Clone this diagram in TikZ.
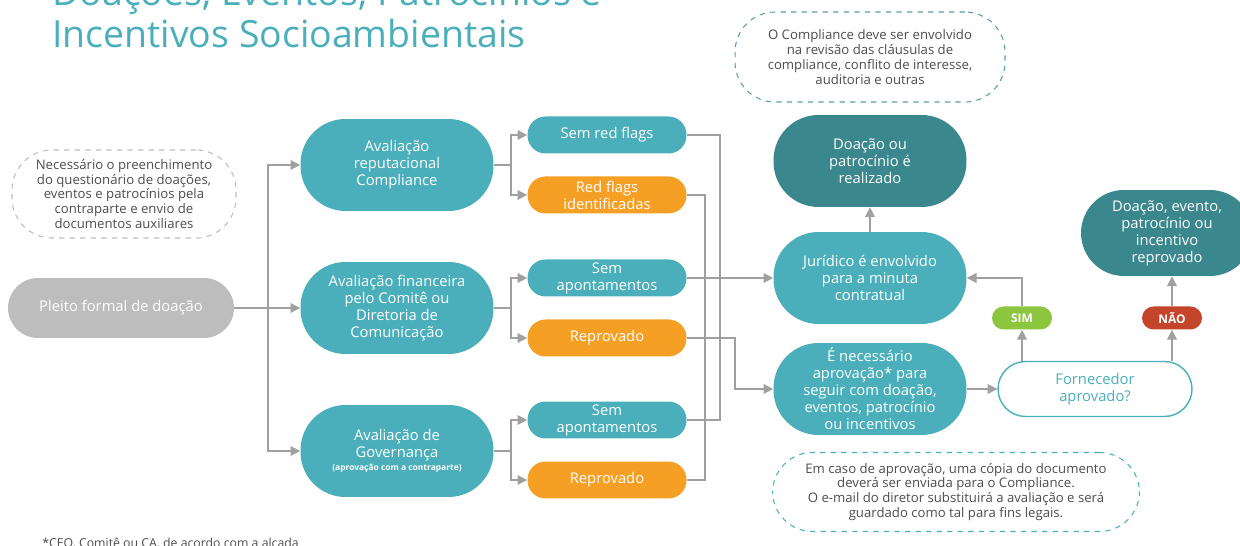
\documentclass[tikz,border=0pt]{standalone}
\usepackage{fontspec}
\setmainfont{Open Sans}
\usetikzlibrary{arrows.meta}

\definecolor{tealmid}{HTML}{4AAFBA}
\definecolor{tealdark}{HTML}{3A878E}
\definecolor{tealnota}{HTML}{5A9EA5}
\definecolor{laranja}{HTML}{F5A025}
\definecolor{cinza}{HTML}{BDBDBD}
\definecolor{linha}{HTML}{A0A0A0}
\definecolor{verde}{HTML}{8CC63F}
\definecolor{vermelho}{HTML}{C4452B}
\definecolor{textocinza}{HTML}{4D4D4D}

\begin{document}
\begin{tikzpicture}[x=0.02cm,y=-0.02cm,
  caixa/.style={align=center,text=white,inner sep=0pt,font=\fontsize{8.4}{9.7}\selectfont},
  aval/.style={caixa,fill=tealmid,minimum width=3.86cm,minimum height=1.84cm,rounded corners=0.9cm},
  res/.style={caixa,minimum width=3.18cm,minimum height=0.74cm,rounded corners=0.36cm},
  sem/.style={res,fill=tealmid},
  reprov/.style={res,fill=laranja},
  etapa/.style={aval},
  final/.style={etapa,fill=tealdark},
  nota/.style={dashed,line width=0.6pt,align=center,text=textocinza,inner sep=0pt,
    font=\fontsize{7.5}{8.5}\selectfont,rounded corners=0.8cm},
  tag/.style={text=white,inner sep=0pt,font=\fontsize{6.8}{7}\selectfont\bfseries,
    minimum width=1.2cm,minimum height=0.46cm,rounded corners=0.23cm},
  fio/.style={draw=linha,line width=0.85pt},
  seta/.style={fio,-{Triangle[length=5.5pt,width=5.5pt]}}]

  \useasboundingbox (0,0) rectangle (1240,546);
  \clip (0,0) rectangle (1240,546);

  % 标题
  \node[anchor=base west,align=left,text=tealmid,inner sep=0pt,
    font=\fontsize{21.3}{24.4}\selectfont] (titulo) at (52,48)
    {Doações, Eventos, Patrocínios e\\Incentivos Socioambientais};

  % 左侧
  \node[nota,draw=cinza,minimum width=4.48cm,minimum height=1.76cm] (questionario) at (124,194)
    {Necessário o preenchimento\\do questionário de doações,\\eventos e patrocínios pela\\contraparte e envio de\\documentos auxiliares};
  \node[caixa,fill=cinza,minimum width=4.52cm,minimum height=1.2cm,rounded corners=0.6cm] (pleito) at (121,308)
    {Pleito formal de doação};

  % 三个评估
  \node[aval] (reputacional) at (397,165) {Avaliação\\reputacional\\Compliance};
  \node[aval] (financeira) at (397,308) {Avaliação financeira\\pelo Comitê ou\\Diretoria de\\Comunicação};
  \node[aval] (governanca) at (397,451)
    {Avaliação de\\Governança\\[-2pt]{\fontsize{4.8}{5}\selectfont\bfseries (aprovação com a contraparte)}};

  % 结果
  \node[sem] (semflags) at (607,135) {Sem red flags};
  \node[reprov] (redflags) at (607,195) {Red flags\\identificadas};
  \node[sem] (semapont1) at (607,278) {Sem\\apontamentos};
  \node[reprov] (reprov1) at (607,338) {Reprovado};
  \node[sem] (semapont2) at (607,420) {Sem\\apontamentos};
  \node[reprov] (reprov2) at (607,480) {Reprovado};

  % 右侧
  \node[nota,draw=tealnota,minimum width=5.4cm,minimum height=1.8cm] (clausulas) at (870,57)
    {O Compliance deve ser envolvido\\na revisão das cláusulas de\\compliance, conflito de interesse,\\auditoria e outras};
  \node[final] (doacao) at (870,161) {Doação ou\\patrocínio é\\realizado};
  \node[etapa] (juridico) at (870,278) {Jurídico é envolvido\\para a minuta\\contratual};
  \node[etapa] (necessario) at (870,389)
    {É necessário\\aprovação* para\\seguir com doação,\\eventos, patrocínio\\ou incentivos};
  \node[caixa,draw=tealmid,line width=0.8pt,fill=white,text=tealmid,minimum width=3.88cm,
    minimum height=1.1cm,rounded corners=0.55cm] (fornecedor) at (1095,389) {Fornecedor\\aprovado?};
  \node[tag,fill=verde] (sim) at (1022,318) {SIM};
  \node[tag,fill=vermelho] (nao) at (1172,318) {NÃO};
  \node[final,minimum width=3.44cm,minimum height=1.72cm,rounded corners=0.86cm] (reprovado) at (1167,233)
    {Doação, evento,\\patrocínio ou\\incentivo\\reprovado};
  \node[nota,draw=tealmid,minimum width=7.34cm,minimum height=1.58cm] (copia) at (956,492)
    {Em caso de aprovação, uma cópia do documento\\deverá ser enviada para o Compliance.\\O e-mail do diretor substituirá a avaliação e será\\guardado como tal para fins legais.};

  % 脚注
  \node[anchor=north west,inner sep=0pt,text=textocinza,font=\fontsize{7}{8}\selectfont] (rodape) at (42,538)
    {*CEO, Comitê ou CA, de acordo com a alçada};

  % 连线
  \coordinate (tronco) at (268,308);
  \draw[seta] (pleito) -- (financeira);
  \draw[seta] (tronco) |- (reputacional.west);
  \draw[seta] (tronco) |- (governanca.west);

  \draw[seta] (reputacional.east) -- ++(17,0) |- (semflags.west);
  \draw[seta] (reputacional.east) -- ++(17,0) |- (redflags.west);
  \draw[seta] (financeira.east) -- ++(17,0) |- (semapont1.west);
  \draw[seta] (financeira.east) -- ++(17,0) |- (reprov1.west);
  \draw[seta] (governanca.east) -- ++(17,0) |- (semapont2.west);
  \draw[seta] (governanca.east) -- ++(17,0) |- (reprov2.west);

  \draw[fio] (semflags.east) -- ++(33,0) |- (semapont2.east);
  \draw[fio] (redflags.east) -- ++(18,0) |- (reprov2.east);
  \draw[seta] (semapont1) -- (juridico);
  \draw[seta] (reprov1.east) -- ++(48,0) |- (necessario.west);

  \draw[seta] (juridico) -- (doacao);
  \draw[seta] (necessario) -- (fornecedor);
  \draw[seta] (fornecedor.north -| sim) -- (sim);
  \draw[seta] (sim.north) |- (juridico.east);
  \draw[seta] (fornecedor.north -| nao) -- (nao);
  \draw[seta] (nao.north) -- (nao.north |- reprovado.south);
\end{tikzpicture}
\end{document}
